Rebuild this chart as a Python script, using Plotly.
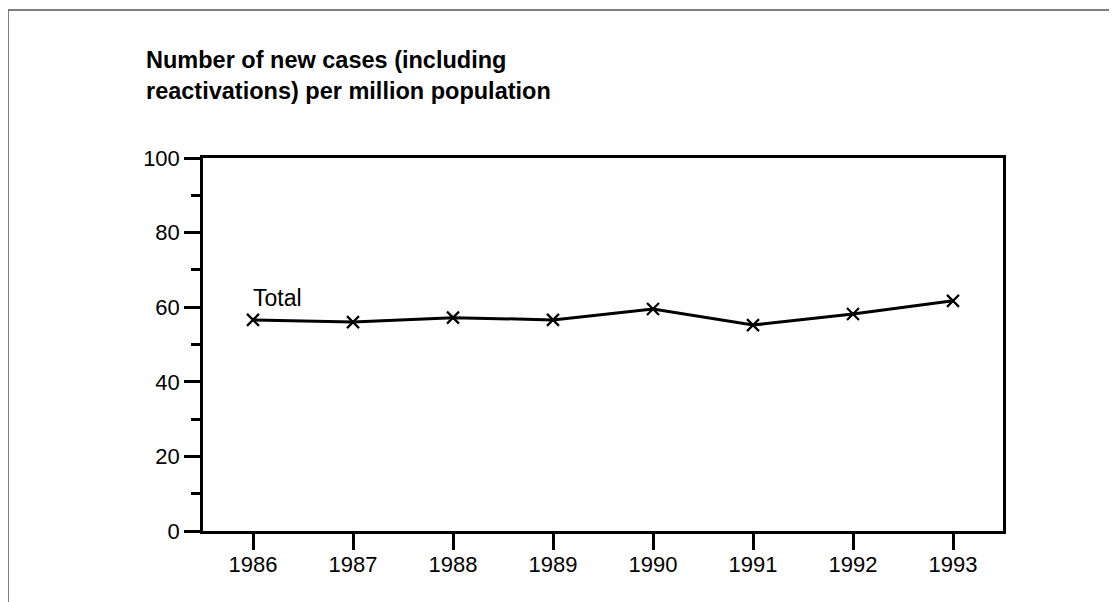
import plotly.graph_objects as go

years = [1986, 1987, 1988, 1989, 1990, 1991, 1992, 1993]
total_cases = [56.6, 56.0, 57.2, 56.6, 59.5, 55.2, 58.2, 61.7]
y_ticks = [0, 20, 40, 60, 80, 100]

FONT = "Liberation Sans, Arial, sans-serif"

fig = go.Figure()
fig.add_trace(go.Scatter(
    x=years, y=total_cases, mode="lines+markers",
    line=dict(color="black", width=3),
    marker=dict(symbol="x-thin", size=12, line=dict(color="black", width=2.2)),
    showlegend=False, hoverinfo="x+y",
))

# series label
fig.add_annotation(x=years[0], y=total_cases[0], text="Total", showarrow=False,
                   xanchor="left", yanchor="bottom", xshift=-2, yshift=7,
                   font=dict(family=FONT, size=23, color="black"))

fig.update_xaxes(
    range=[1985.5, 1993.5], tickvals=years, ticktext=[str(y) for y in years],
    showline=True, linecolor="black", linewidth=2.5, mirror=True,
    ticks="outside", ticklen=16, tickwidth=2.5, tickcolor="black",
    ticklabelstandoff=-4,
    showgrid=False, zeroline=False,
    tickfont=dict(family=FONT, size=22, color="black"),
)
fig.update_yaxes(
    range=[0, 100], tickvals=y_ticks,
    showline=True, linecolor="black", linewidth=2.5, mirror=True,
    ticks="outside", ticklen=16, tickwidth=2.5, tickcolor="black",
    minor=dict(tickvals=[10, 30, 50, 70, 90], ticks="outside", ticklen=9,
               tickwidth=2.5, tickcolor="black", showgrid=False),
    showgrid=False, zeroline=False,
    tickfont=dict(family=FONT, size=22, color="black"),
)

# thin grey frame along the top and left edges
fig.add_shape(type="line", xref="paper", yref="paper",
              x0=-0.24375, x1=1.2, y0=1.3968, y1=1.3968,
              line=dict(color="#555555", width=1.5))
fig.add_shape(type="line", xref="paper", yref="paper",
              x0=-0.24375, x1=-0.24375, y0=-0.3, y1=1.3968,
              line=dict(color="#555555", width=1.5))

fig.update_layout(
    width=1117, height=602,
    margin=dict(l=195, r=122, t=150, b=79),
    paper_bgcolor="white", plot_bgcolor="white",
    title=dict(
        text="<b>Number of new cases (including<br>reactivations) per million population</b>",
        xref="container", yref="container", x=138 / 1117, xanchor="left",
        y=1 - 60 / 602, yanchor="top",
        font=dict(family=FONT, size=23.5, color="black"),
    ),
    font=dict(family=FONT, color="black"),
)

fig.write_html("out.html")
